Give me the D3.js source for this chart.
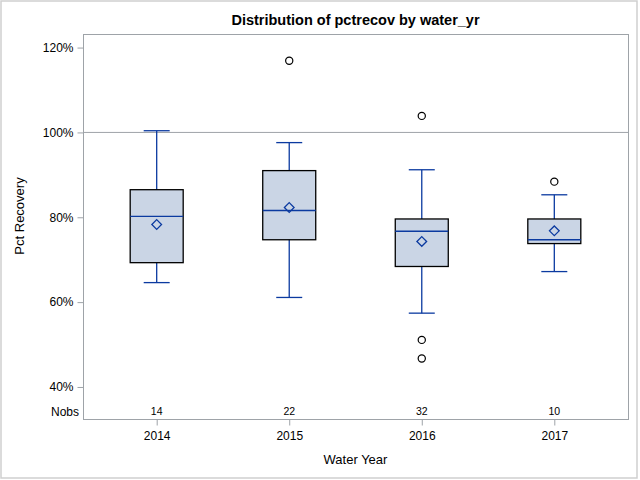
<!DOCTYPE html>
<html>
<head>
<meta charset="utf-8">
<script src="https://cdn.jsdelivr.net/npm/d3@7"></script>
<style>
  body { margin: 0; background: #fff; }
  text { font-family: "Liberation Sans", Arial, sans-serif; fill: #000; }
</style>
</head>
<body>
<div class="chart"></div>
<script>
// values (percent)
var years = ["2014", "2015", "2016", "2017"];
var nobs = [14, 22, 32, 10];
var whiskerLo = [64.6, 61.1, 57.4, 67.2];
var q1 = [69.3, 74.7, 68.4, 73.8];
var median = [80.2, 81.6, 76.7, 74.7];
var q3 = [86.5, 91.0, 79.6, 79.6];
var whiskerHi = [100.4, 97.6, 91.2, 85.3];
var means = [78.3, 82.3, 74.3, 76.8];
var outliers = [[], [116.9], [103.9, 51.1, 46.7], [88.4]];
var yTicks = [40, 60, 80, 100, 120];
var refValue = 100;

var margin = {top: 34, right: 12, bottom: 61, left: 83},
    width = 640 - margin.left - margin.right,
    height = 480 - margin.top - margin.bottom;

var blue = "#0b3aa0",
    boxFill = "#cad5e5",
    gray = "#9ea3a8";

var svgRoot = d3.select(".chart").append("svg")
    .attr("width", 640)
    .attr("height", 480);

// outer frame
svgRoot.append("rect")
    .attr("x", 1).attr("y", 1)
    .attr("width", 636).attr("height", 477)
    .attr("fill", "none")
    .attr("stroke", "#cfcfcf")
    .attr("stroke-width", 1.5);

svgRoot.append("text")
    .attr("x", margin.left + width / 2)
    .attr("y", 25)
    .attr("text-anchor", "middle")
    .style("font-size", "14.5px")
    .style("font-weight", "bold")
    .text("Distribution of pctrecov by water_yr");

var svg = svgRoot.append("g")
    .attr("transform", "translate(" + margin.left + "," + margin.top + ")");

var xScale = d3.scalePoint()
    .domain(years)
    .range([0, width])
    .padding(0.556);

var yScale = d3.scaleLinear()
    .domain([32.45, 123.2])
    .range([height, 0]);

var boxW = 53, capW = 26;

// reference line
svg.append("line")
    .attr("x1", 0).attr("x2", width)
    .attr("y1", yScale(refValue)).attr("y2", yScale(refValue))
    .attr("stroke", gray);

// plot frame
svg.append("rect")
    .attr("x", 0.5).attr("y", 0.5)
    .attr("width", width).attr("height", height)
    .attr("fill", "none")
    .attr("stroke", gray);

// y axis
var yAxis = d3.axisLeft(yScale)
    .tickValues(yTicks)
    .tickSize(6)
    .tickPadding(4)
    .tickFormat(function(d) { return d + "%"; });

var gy = svg.append("g").attr("transform", "translate(0.5,0)").call(yAxis);
gy.select(".domain").remove();
gy.selectAll("line").attr("stroke", gray);
gy.selectAll("text").style("font-size", "12px").attr("font-family", null);

// x axis
var xAxis = d3.axisBottom(xScale)
    .tickSize(6)
    .tickPadding(6);

var gx = svg.append("g").attr("transform", "translate(0," + (height + 0.5) + ")").call(xAxis);
gx.select(".domain").remove();
gx.selectAll("line").attr("stroke", gray);
gx.selectAll("text").style("font-size", "12px").attr("font-family", null);

svgRoot.append("text")
    .attr("transform", "translate(24," + (margin.top + 182) + ") rotate(-90)")
    .attr("text-anchor", "middle")
    .style("font-size", "13px")
    .text("Pct Recovery");

svgRoot.append("text")
    .attr("x", margin.left + width / 2)
    .attr("y", 464)
    .attr("text-anchor", "middle")
    .style("font-size", "13px")
    .text("Water Year");

// boxes
var rows = years.map(function(y, i) {
  return {year: y, lo: whiskerLo[i], q1: q1[i], med: median[i], q3: q3[i],
          hi: whiskerHi[i], mean: means[i], out: outliers[i], n: nobs[i]};
});

var g = svg.selectAll(".box")
    .data(rows)
  .enter().append("g")
    .attr("class", "box")
    .attr("transform", function(d) { return "translate(" + xScale(d.year) + ",0)"; });

// whiskers
g.append("line")
    .attr("x1", 0).attr("x2", 0)
    .attr("y1", function(d) { return yScale(d.hi); })
    .attr("y2", function(d) { return yScale(d.lo); })
    .attr("stroke", blue).attr("stroke-width", 1.3);

g.selectAll(".cap")
    .data(function(d) { return [d.lo, d.hi]; })
  .enter().append("line")
    .attr("class", "cap")
    .attr("x1", -capW / 2).attr("x2", capW / 2)
    .attr("y1", function(v) { return yScale(v); })
    .attr("y2", function(v) { return yScale(v); })
    .attr("stroke", blue).attr("stroke-width", 1.3);

g.append("rect")
    .attr("x", -boxW / 2)
    .attr("y", function(d) { return yScale(d.q3); })
    .attr("width", boxW)
    .attr("height", function(d) { return yScale(d.q1) - yScale(d.q3); })
    .attr("fill", boxFill)
    .attr("stroke", "#000")
    .attr("stroke-width", 1.3);

g.append("line")
    .attr("x1", -boxW / 2).attr("x2", boxW / 2)
    .attr("y1", function(d) { return yScale(d.med); })
    .attr("y2", function(d) { return yScale(d.med); })
    .attr("stroke", blue).attr("stroke-width", 1.3);

g.append("path")
    .attr("d", d3.symbol().type(d3.symbolDiamond2).size(60))
    .attr("transform", function(d) { return "translate(0," + yScale(d.mean) + ")"; })
    .attr("fill", "none")
    .attr("stroke", blue).attr("stroke-width", 1.3);

g.selectAll(".outlier")
    .data(function(d) { return d.out; })
  .enter().append("circle")
    .attr("class", "outlier")
    .attr("cx", 0)
    .attr("cy", function(v) { return yScale(v); })
    .attr("r", 3.6)
    .attr("fill", "none")
    .attr("stroke", "#000")
    .attr("stroke-width", 1.2);

// Nobs row
svg.append("text")
    .attr("x", -4)
    .attr("y", height - 3.5)
    .attr("text-anchor", "end")
    .style("font-size", "12px")
    .text("Nobs");

g.append("text")
    .attr("y", height - 4)
    .attr("text-anchor", "middle")
    .style("font-size", "10.5px")
    .text(function(d) { return d.n; });
</script>
</body>
</html>
